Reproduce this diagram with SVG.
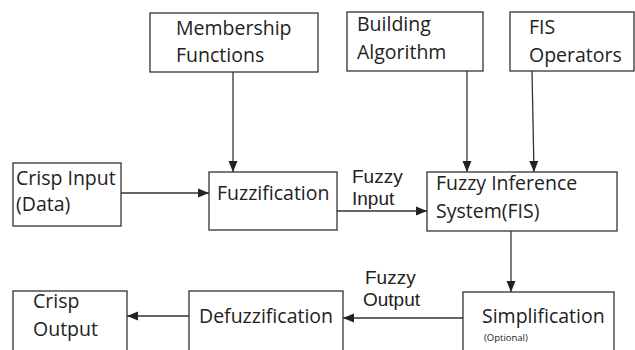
<svg xmlns="http://www.w3.org/2000/svg" width="635" height="350" viewBox="0 0 635 350">
<defs>
<style>
.box{fill:#fff;stroke:#333;stroke-width:1.3}
.t{font-family:"Open Sans","Noto Sans",sans-serif;font-size:19.5px;fill:#222}
.l{font-family:"Liberation Sans",Arial,sans-serif;font-size:19px;fill:#222}
.s{font-family:"Open Sans","Noto Sans",sans-serif;font-size:9.5px;fill:#222}
.c{stroke:#333;stroke-width:1.3;fill:none;marker-end:url(#ah)}
</style>
<marker id="ah" markerUnits="userSpaceOnUse" markerWidth="12" markerHeight="10" refX="11" refY="5" orient="auto">
<path d="M0,0.5 L11,5 L0,9.5 Z" fill="#222"/>
</marker>
</defs>
<rect width="635" height="350" fill="#fff"/>
<g id="connectors">
<line class="c" x1="233" y1="72" x2="233" y2="172"/>
<line class="c" x1="467" y1="71" x2="467" y2="172"/>
<line class="c" x1="532" y1="71" x2="534" y2="172"/>
<line class="c" x1="121" y1="193" x2="209" y2="193"/>
<line class="c" x1="337" y1="211" x2="427" y2="211"/>
<line class="c" x1="511" y1="231" x2="511" y2="292"/>
<line class="c" x1="463" y1="318" x2="343" y2="318"/>
<line class="c" x1="189" y1="316" x2="127" y2="316"/>
<text class="l" x="352" y="183">Fuzzy</text>
<text class="l" x="352" y="205">Input</text>
<text class="l" x="365" y="284">Fuzzy</text>
<text class="l" x="363" y="306">Output</text>
</g>
<g id="membership">
<rect class="box" x="150" y="13" width="168" height="59"/>
<text class="t" x="176" y="35">Membership</text>
<text class="t" x="176" y="62">Functions</text>
</g>
<g id="building">
<rect class="box" x="347" y="12" width="136" height="59"/>
<text class="t" x="357" y="31">Building</text>
<text class="t" x="357" y="59">Algorithm</text>
</g>
<g id="operators">
<rect class="box" x="510" y="12" width="124" height="59"/>
<text class="t" x="529" y="34">FIS</text>
<text class="t" x="529" y="62">Operators</text>
</g>
<g id="crisp-input">
<rect class="box" x="13" y="163" width="108" height="63"/>
<text class="t" x="16" y="185">Crisp Input</text>
<text class="t" x="16" y="211">(Data)</text>
</g>
<g id="fuzzification">
<rect class="box" x="209" y="172" width="128" height="58"/>
<text class="t" x="217" y="200">Fuzzification</text>
</g>
<g id="fis">
<rect class="box" x="427" y="172" width="190" height="59"/>
<text class="t" x="436" y="190">Fuzzy Inference</text>
<text class="t" x="436" y="218">System(FIS)</text>
</g>
<g id="simplification">
<rect class="box" x="463" y="292" width="151" height="70"/>
<text class="t" x="482" y="323">Simplification</text>
<text class="s" x="484" y="341">(Optional)</text>
</g>
<g id="defuzzification">
<rect class="box" x="189" y="291" width="154" height="70"/>
<text class="t" x="199" y="323">Defuzzification</text>
</g>
<g id="crisp-output">
<rect class="box" x="13" y="291" width="114" height="70"/>
<text class="t" x="33" y="308">Crisp</text>
<text class="t" x="33" y="336">Output</text>
</g>
</svg>
